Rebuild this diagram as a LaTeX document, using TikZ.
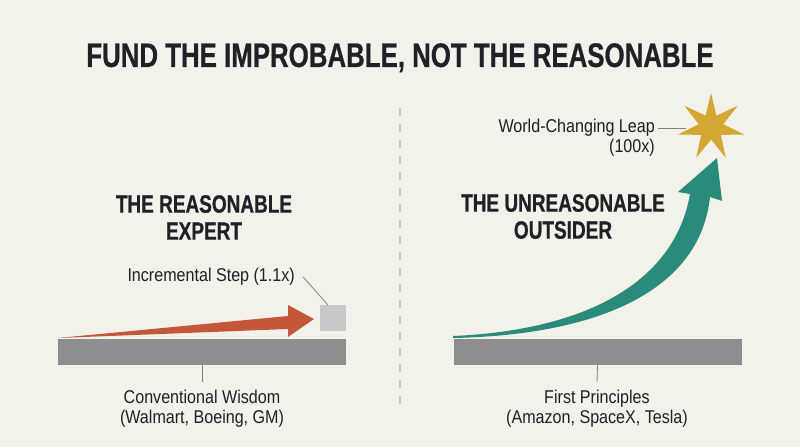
\documentclass[tikz,border=0pt]{standalone}
\usepackage{fontspec}
\setmainfont{Liberation Sans}
\newfontfamily\headfont[FakeStretch=0.76,FakeBold=0.6]{Liberation Sans}
\newfontfamily\bodyfont[FakeStretch=0.87]{Liberation Sans}
\usepackage{tikz}
\usetikzlibrary{calc}
\usetikzlibrary{shapes}
\definecolor{paper}{HTML}{F2F1EA}
\definecolor{ink}{HTML}{1E2125}
\definecolor{rust}{HTML}{C4573A}
\definecolor{teal}{HTML}{2A8B7B}
\definecolor{gold}{HTML}{D4A733}
\definecolor{ground}{HTML}{8E8E8E}
\definecolor{stepgray}{HTML}{C8C8C8}
\definecolor{leader}{HTML}{808080}
\newcommand{\groundbar}[3]{\node[groundbox, minimum width=288pt] (#1) at ( #2 , #3 ) {};}
\tikzset{
  groundbox/.style={fill=ground, minimum height=26pt, inner sep=0pt},
  headtext/.style={font=\headfont\bfseries\fontsize{25}{27}\selectfont, text=ink, align=center, inner sep=0pt, anchor=north},
  labeltext/.style={font=\bodyfont\fontsize{18.5}{20}\selectfont, text=ink, inner sep=0pt},
  leaderline/.style={draw=leader, line width=0.8pt},
}

\begin{document}
\begin{tikzpicture}[x=1pt, y=-1pt]
        \fill[paper] (0,0) rectangle (800,447);
        % title
        \node[headtext, font=\headfont\bfseries\fontsize{34}{38}\selectfont] (title) at (400,43) {FUND THE IMPROBABLE, NOT THE REASONABLE};
        % divider
        \draw[stepgray, line width=2pt, dash pattern=on 8pt off 8pt] (400,108) -- (400,407);
        % left side
        \node[headtext] (expert) at (204,195) {THE REASONABLE\\EXPERT};
        \groundbar{leftbar}{202}{351.5}
        \fill[rust] (58,338) -- (288,316) -- (288,305) -- (314,319) -- (288,337) -- (288,329) -- cycle;
        \node[fill=stepgray, minimum size=26pt, inner sep=0pt] (square) at (333,318) {};
        \node[labeltext, anchor=north east] (incr) at (295,268) {Incremental Step (1.1x)};
        \coordinate (incrend) at ($(incr.east)+(8,0)$);
        \draw[leaderline] (incrend) -- ($(square.north west)+(8,0)$);
        \node[labeltext, align=center, anchor=north] (conv) at (202,390) {Conventional Wisdom\\(Walmart, Boeing, GM)};
        \draw[leaderline] (leftbar.south) -- ($(conv.north)+(0,-8)$);
        % right side
        \node[headtext] (outsider) at (563,194) {THE UNREASONABLE\\OUTSIDER};
        \groundbar{rightbar}{597.5}{351.5}
        \fill[teal] (453,338) .. controls (600,335) and (700,290) .. (710,197)
                    -- (722,201) -- (717,158) -- (678,192) -- (690,194)
                    .. controls (675,280) and (590,330) .. (453,336) -- cycle;
        \node[star, star points=7, star point ratio=2.7, minimum size=68pt, inner sep=0pt, fill=gold] (leap) at (711,127) {};
        \node[labeltext, align=right, anchor=north east] (world) at (655,119) {World-Changing Leap\\(100x)};
        \draw[leaderline] ($(world.north east)+(3,9)$) -- ($(leap.center)+(-25,1)$);
        \node[labeltext, align=center, anchor=north] (first) at (597,390) {First Principles\\(Amazon, SpaceX, Tesla)};
        \draw[leaderline] (rightbar.south) -- ($(first.north)+(0,-8)$);
    \end{tikzpicture}
\end{document}
